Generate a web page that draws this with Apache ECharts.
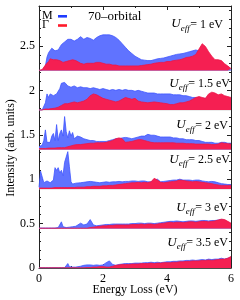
<!DOCTYPE html>
<html><head><meta charset="utf-8">
<script src="https://cdn.jsdelivr.net/npm/echarts@6/dist/echarts.min.js"></script>
<style>html,body{margin:0;padding:0;background:#fff}#c{width:240px;height:300px}</style>
</head><body><div id="c"></div>
<script>
// Energy grid (eV)
const energy = [0,0.05,0.1,0.15,0.2,0.25,0.3,0.35,0.4,0.45,0.5,0.55,0.6,0.65,0.7,0.75,0.8,0.85,0.9,0.95,1.0,1.05,1.1,1.15,1.2,
1.3,1.4,1.5,1.6,1.7,1.8,1.9,2.0,2.1,2.2,2.3,2.4,2.5,2.6,2.7,2.8,2.9,3.0,3.1,3.2,3.3,3.4,3.5,3.6,3.7,3.8,3.9,4.0,4.1,4.2,
4.3,4.4,4.5,4.6,4.7,4.8,4.9,5.0,5.1,5.2,5.3,5.4,5.5,5.6,5.7,5.8,5.9,6.0];

// Vertical offsets of each panel (arb. units)
const offsets = [2.225, 1.78, 1.335, 0.89, 0.445, 0];
const uValues = ['1', '1.5', '2', '2.5', '3', '3.5'];
const yTicks = [0, 0.5, 1, 1.5, 2, 2.5];
const xTicks = [0, 2, 4, 6];

// M point spectra (blue), intensity above each panel baseline
const m1 = [0,0,0,0.01,0.05,0.15,0.2,0.22,0.25,0.27,0.22,0.21,0.23,0.25,0.29,0.31,0.32,0.34,0.35,0.355,0.35,0.34,0.33,0.32,0.35,
0.38,0.35,0.37,0.36,0.34,0.37,0.39,0.40,0.40,0.40,0.39,0.37,0.34,0.30,0.26,0.22,0.19,0.16,0.14,0.12,
0.115,0.11,0.11,0.12,0.13,0.135,0.14,0.15,0.16,0.17,0.18,0.185,0.19,0.2,0.21,0.22,0.23,0.22,0.2,0.18,
0.15,0.12,0.1,0.09,0.08,0.06,0.04,0.0];
const m2 = [0,0,0,0.01,0.08,0.18,0.14,0.18,0.16,0.16,0.17,0.18,0.2,0.24,0.3,0.32,0.31,0.31,0.27,0.26,0.255,0.26,0.27,0.26,0.25,
0.26,0.25,0.25,0.24,0.25,0.24,0.23,0.24,0.23,0.22,0.23,0.22,0.23,0.22,0.23,0.22,0.22,0.21,0.22,0.21,
0.2,0.19,0.19,0.19,0.18,0.18,0.18,0.18,0.18,0.17,0.17,0.17,0.16,0.16,0.15,0.14,0.14,0.13,0.13,0.13,
0.12,0.11,0.1,0.1,0.1,0.1,0.09,0.08];
const m3 = [0.03,0.04,0.05,0.1,0.22,0.08,0.07,0.08,0.15,0.18,0.1,0.28,0.1,0.18,0.22,0.15,0.37,0.2,0.13,0.21,0.15,0.19,0.12,0.14,0.15,
0.14,0.12,0.11,0.1,0.1,0.09,0.09,0.09,0.09,0.1,0.11,0.12,0.12,0.13,0.135,0.13,0.12,0.13,0.14,0.15,
0.15,0.17,0.16,0.16,0.15,0.14,0.14,0.14,0.14,0.13,0.13,0.12,0.12,0.11,0.11,0.11,0.1,0.1,0.09,0.08,
0.08,0.08,0.07,0.07,0.08,0.08,0.07,0.07];
const m4 = [0.02,0.2,0.22,0.07,0.07,0.09,0.09,0.07,0.08,0.1,0.24,0.21,0.24,0.18,0.21,0.15,0.3,0.28,0.42,0.25,0.08,0.055,0.06,0.065,0.07,
0.07,0.075,0.08,0.085,0.08,0.075,0.07,0.075,0.08,0.075,0.08,0.08,0.085,0.08,0.085,0.085,0.09,0.09,0.085,0.09,
0.09,0.08,0.08,0.1,0.11,0.08,0.085,0.09,0.095,0.1,0.1,0.11,0.1,0.1,0.1,0.095,0.1,0.1,0.09,0.085,
0.08,0.085,0.08,0.07,0.06,0.055,0.05,0.05];
const m5 = [0.005,0.005,0.005,0.005,0.005,0.005,0.005,0.005,0.005,0.005,0.005,0.005,0.01,0.03,0.075,0.02,0.01,0.01,0.01,0.015,0.015,0.02,0.02,0.025,0.03,
0.06,0.04,0.05,0.1,0.04,0.03,0.035,0.04,0.045,0.045,0.05,0.05,0.05,0.05,0.05,0.05,0.055,0.055,0.06,0.06,
0.055,0.06,0.06,0.055,0.06,0.065,0.07,0.075,0.08,0.08,0.085,0.08,0.075,0.08,0.085,0.085,0.08,0.085,0.09,0.09,
0.085,0.09,0.09,0.095,0.1,0.09,0.07,0.05];
const m6 = [0.003,0.003,0.003,0.003,0.003,0.003,0.003,0.003,0.003,0.003,0.003,0.003,0.003,0.003,0.003,0.003,0.003,0.003,0.05,0.015,0.01,0.01,0.01,0.01,0.015,
0.02,0.03,0.035,0.035,0.03,0.035,0.03,0.035,0.06,0.08,0.04,0.03,0.04,0.045,0.05,0.05,0.05,0.055,0.055,0.055,
0.06,0.06,0.065,0.06,0.065,0.06,0.065,0.07,0.07,0.075,0.075,0.08,0.08,0.085,0.085,0.09,0.085,0.09,0.095,0.09,
0.1,0.095,0.1,0.1,0.11,0.1,0.11,0.12];

// Gamma point spectra (red)
const g1 = [0,0,0.01,0.03,0.06,0.08,0.1,0.13,0.11,0.12,0.11,0.12,0.13,0.11,0.1,0.09,0.1,0.1,0.1,0.11,0.11,0.12,0.13,0.11,0.09,
0.08,0.07,0.08,0.08,0.08,0.09,0.09,0.08,0.07,0.07,0.06,0.06,0.05,0.05,0.05,0.05,0.05,0.05,0.05,0.055,
0.06,0.065,0.07,0.08,0.085,0.09,0.09,0.1,0.1,0.11,0.115,0.12,0.13,0.145,0.15,0.16,0.18,0.24,0.3,0.27,
0.21,0.16,0.12,0.12,0.11,0.075,0.05,0.02];
const g2 = [0,0,0,0.005,0.01,0.01,0.01,0.01,0.015,0.015,0.02,0.025,0.03,0.04,0.05,0.06,0.07,0.07,0.07,0.075,0.08,0.085,0.09,0.085,0.08,
0.09,0.1,0.12,0.16,0.18,0.17,0.15,0.13,0.12,0.11,0.1,0.09,0.1,0.12,0.14,0.13,0.12,0.13,0.1,0.09,
0.085,0.08,0.085,0.09,0.085,0.08,0.075,0.07,0.06,0.06,0.07,0.08,0.08,0.09,0.1,0.12,0.14,0.15,0.14,0.13,
0.18,0.2,0.19,0.17,0.18,0.16,0.15,0.14];
const g3 = [0.01,0.01,0.01,0.01,0.01,0.015,0.015,0.015,0.015,0.015,0.015,0.015,0.02,0.02,0.02,0.02,0.02,0.02,0.03,0.03,0.04,0.04,0.05,0.05,0.055,
0.055,0.06,0.065,0.07,0.07,0.075,0.075,0.075,0.08,0.09,0.1,0.12,0.13,0.12,0.08,0.085,0.09,0.1,0.11,0.11,
0.1,0.09,0.08,0.075,0.075,0.075,0.075,0.075,0.075,0.075,0.07,0.07,0.07,0.065,0.065,0.065,0.06,0.06,0.06,0.06,
0.06,0.055,0.055,0.06,0.075,0.07,0.065,0.06];
const g4 = [0.01,0.01,0.01,0.01,0.01,0.01,0.01,0.01,0.01,0.015,0.015,0.015,0.015,0.015,0.015,0.015,0.015,0.015,0.015,0.015,0.015,0.015,0.015,0.02,0.02,
0.02,0.02,0.025,0.025,0.03,0.03,0.03,0.035,0.035,0.04,0.04,0.045,0.05,0.055,0.06,0.065,0.07,0.07,0.075,0.07,
0.075,0.07,0.08,0.12,0.1,0.075,0.07,0.075,0.08,0.085,0.09,0.1,0.095,0.09,0.085,0.08,0.085,0.08,0.075,0.07,
0.065,0.06,0.05,0.045,0.04,0.04,0.04,0.04];
const g5 = [0.003,0.003,0.003,0.003,0.003,0.003,0.003,0.003,0.003,0.003,0.003,0.003,0.003,0.003,0.003,0.003,0.003,0.003,0.003,0.003,0.003,0.003,0.003,0.003,0.003,
0.003,0.003,0.003,0.01,0.015,0.02,0.025,0.03,0.03,0.035,0.035,0.04,0.04,0.04,0.04,0.04,0.045,0.045,0.045,0.05,
0.045,0.05,0.05,0.045,0.05,0.055,0.06,0.065,0.07,0.065,0.07,0.07,0.065,0.07,0.075,0.075,0.07,0.075,0.08,0.08,
0.075,0.08,0.085,0.095,0.105,0.1,0.08,0.06];
const g6 = [0.002,0.002,0.002,0.002,0.002,0.002,0.002,0.002,0.002,0.002,0.002,0.002,0.002,0.002,0.002,0.002,0.002,0.002,0.002,0.002,0.002,0.002,0.002,0.002,0.002,
0.002,0.002,0.005,0.005,0.01,0.01,0.015,0.015,0.01,0.01,0.02,0.03,0.035,0.04,0.04,0.04,0.045,0.045,0.045,0.05,
0.05,0.05,0.055,0.05,0.055,0.055,0.06,0.06,0.06,0.065,0.065,0.07,0.07,0.075,0.075,0.08,0.08,0.08,0.085,0.085,
0.09,0.085,0.09,0.095,0.1,0.1,0.11,0.13];

const mSpectra = [m1, m2, m3, m4, m5, m6];
const gSpectra = [g1, g2, g3, g4, g5, g6];

// ---- layout / style ----
const SERIF = '"Liberation Serif","DejaVu Serif",serif';
const BLUE_FILL = '#6073ff', BLUE_LINE = '#3f56ff';
const RED_FILL = '#f51f52', RED_LINE = '#ee1446';
const labelY = [24.5, 84, 125.5, 160, 208, 243];   // centre of "= x eV" text, px
const labelR = [223, 230, 228, 230, 228, 228];     // right edge, px
const FONT_U = 'italic 13px ' + SERIF, FONT_S = 'italic 9px ' + SERIF, FONT_N = '12px ' + SERIF;

const chart = echarts.init(document.getElementById('c'), null, {renderer: 'canvas'});

const mctx = document.createElement('canvas').getContext('2d');
function textW(str, font) { mctx.font = font; return mctx.measureText(str).width; }

function pts(arr, off) { return energy.map((e, i) => [e, off + arr[i]]); }

const series = [];
offsets.forEach((off, p) => {
  series.push({
    type: 'line', data: [[0, off], [6, off]], symbol: 'none', silent: true, z: 1,
    lineStyle: {color: '#cfcfcf', width: 1}
  });
  series.push({
    type: 'line', data: pts(mSpectra[p], off), symbol: 'none', silent: true, z: 2,
    lineStyle: {color: BLUE_LINE, width: 0.8},
    areaStyle: {color: BLUE_FILL, opacity: 1, origin: off}
  });
  series.push({
    type: 'line', data: pts(gSpectra[p], off), symbol: 'none', silent: true, z: 3,
    lineStyle: {color: RED_LINE, width: 0.8},
    areaStyle: {color: RED_FILL, opacity: 1, origin: off}
  });
});

const axisCommon = {
  axisLine: {show: true, onZero: false, lineStyle: {color: '#222', width: 1}},
  axisTick: {show: true, inside: true, length: 4, lineStyle: {color: '#222'}},
  splitLine: {show: false}
};

const graphics = [
  {type: 'text', x: 42, y: 15.5, style: {text: 'M', font: '12px ' + SERIF, fill: '#000', verticalAlign: 'middle'}},
  {type: 'text', x: 42, y: 25, style: {text: 'Γ', font: '12px ' + SERIF, fill: '#000', verticalAlign: 'middle'}},
  {type: 'rect', shape: {x: 58, y: 15, width: 9, height: 2.6}, style: {fill: '#1f3cff'}},
  {type: 'rect', shape: {x: 58, y: 24.2, width: 9, height: 2.6}, style: {fill: '#ff1a2a'}},
  {type: 'text', x: 88, y: 17, style: {text: '70–orbital', font: '13px ' + SERIF, fill: '#000', verticalAlign: 'middle'}},
  {type: 'text', x: 11, y: 148, rotation: Math.PI / 2,
   style: {text: 'Intensity (arb. units)', font: '12px ' + SERIF, fill: '#000', align: 'center', verticalAlign: 'middle'}},
  {type: 'text', x: 135, y: 290,
   style: {text: 'Energy Loss (eV)', font: '12px ' + SERIF, fill: '#000', align: 'center', verticalAlign: 'middle'}}
];
uValues.forEach((u, p) => {
  const nText = '= ' + u + ' eV';
  const xN = labelR[p];
  const xS = xN - textW(nText, FONT_N) - 0.5;
  const xU = xS - textW('eff', FONT_S);
  graphics.push(
    {type: 'text', x: xN, y: labelY[p], z: 10, style: {text: nText, font: FONT_N, fill: '#000', align: 'right', verticalAlign: 'middle'}},
    {type: 'text', x: xS, y: labelY[p] + 4, z: 10, style: {text: 'eff', font: FONT_S, fill: '#000', align: 'right', verticalAlign: 'middle'}},
    {type: 'text', x: xU, y: labelY[p] - 0.5, z: 10, style: {text: 'U', font: FONT_U, fill: '#000', align: 'right', verticalAlign: 'middle'}}
  );
});

chart.setOption({
  animation: false,
  backgroundColor: '#fff',
  grid: {left: 39, right: 9, top: 6, bottom: 32, containLabel: false},
  xAxis: [
    Object.assign({type: 'value', min: 0, max: 6, interval: 2, position: 'bottom',
      minorTick: {show: true, splitNumber: 2, length: 2, lineStyle: {color: '#222'}},
      axisLabel: {show: true, fontFamily: SERIF, fontSize: 12, color: '#000', margin: 5,
        formatter: v => xTicks.includes(v) ? String(v) : ''}}, axisCommon),
    Object.assign({type: 'value', min: 0, max: 6, interval: 2, position: 'top',
      minorTick: {show: true, splitNumber: 2, length: 2, lineStyle: {color: '#222'}},
      axisLabel: {show: false}}, axisCommon)
  ],
  yAxis: [
    Object.assign({type: 'value', min: 0, max: 2.95, interval: 0.5, position: 'left',
      minorTick: {show: true, splitNumber: 5, length: 2, lineStyle: {color: '#222'}},
      axisLabel: {show: true, fontFamily: SERIF, fontSize: 12, color: '#000', margin: 4,
        formatter: v => yTicks.some(t => Math.abs(t - v) < 1e-6) ? String(v) : ''}}, axisCommon),
    Object.assign({type: 'value', min: 0, max: 2.95, interval: 0.5, position: 'right',
      minorTick: {show: true, splitNumber: 5, length: 2, lineStyle: {color: '#222'}},
      axisLabel: {show: false}}, axisCommon)
  ],
  series: series,
  graphic: graphics
});
</script>
</body></html>
